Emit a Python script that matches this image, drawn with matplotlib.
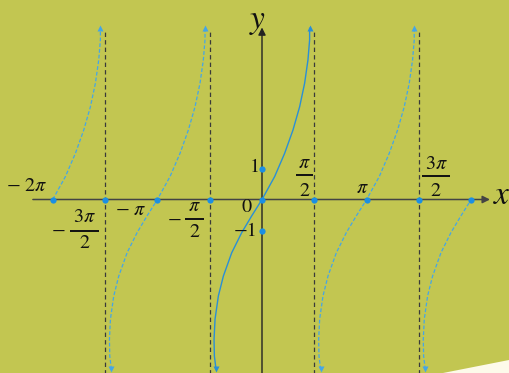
import numpy as np
import matplotlib.pyplot as plt
from matplotlib.patches import Polygon

plt.rcParams['mathtext.fontset'] = 'stix'

# chart values
half_pi = np.pi / 2
asymptotes = [-3 * half_pi, -half_pi, half_pi, 3 * half_pi]
branch_centers = [-2 * np.pi, -np.pi, 0.0, np.pi, 2 * np.pi]
x_marks = [k * half_pi for k in range(-4, 5)]
y_marks = [1, -1]
x_end = 2 * np.pi

# one branch of the curve (offset from its centre, value)
branch_dx = [-1.38, -1.43, -1.44, -1.41, -1.31, -1.16, -0.91, -0.61, -0.31, 0.0,
             0.38, 0.68, 0.93, 1.13, 1.28, 1.38, 1.43, 1.43]
branch_y = [-5.48, -5.05, -4.51, -3.86, -3.11, -2.47, -1.72, -1.07, -0.53, 0.0,
            0.74, 1.49, 2.24, 2.99, 3.75, 4.50, 5.15, 5.52]

# colours
BG = '#c2c651'
SOLID = '#2a8fd6'
DASHED = '#45a6e6'
DOT = '#1b8fe3'
INK = '#111111'

W, H = 509, 373
fig = plt.figure(figsize=(W / 100, H / 100), dpi=100)
fig.patch.set_facecolor(BG)
ax = fig.add_axes([0, 0, 1, 1])
ax.set_facecolor(BG)
ax.axis('off')
# origin at pixel (262, 199.5), 33.3 px per x unit, 31 px per y unit
ax.set_xlim(-262 / 33.3, (W - 262) / 33.3)
ax.set_ylim(-(H - 199.5) / 31, 199.5 / 31)

# paper corner bottom right
fig.patches.append(Polygon([[443 / W, 0], [1, 13 / H], [1, 0]], closed=True,
                           transform=fig.transFigure, facecolor='#fdfaea', edgecolor='none'))

# asymptotes
for a in asymptotes:
    ax.plot([a, a], [-7, 5.5], color='#3a3a3a', lw=0.9, ls=(0, (3.5, 2.5)), zorder=1)

# axes
ax.annotate('', xy=(490 / 33.3 - 262 / 33.3, 0), xytext=(-6.88, 0),
            arrowprops=dict(arrowstyle='-|>', color='#444444', lw=1.1,
                            mutation_scale=11, shrinkA=0, shrinkB=0), zorder=2)
ax.annotate('', xy=(0, 5.55), xytext=(0, -7),
            arrowprops=dict(arrowstyle='-|>', color='#222222', lw=1.0,
                            mutation_scale=11, shrinkA=0, shrinkB=0), zorder=2)

# tangent branches
bdx = np.array(branch_dx)
by = np.array(branch_y)
for c in branch_centers:
    xs = c + bdx
    keep = (xs >= -x_end - 1e-9) & (xs <= x_end + 1e-9)
    if c == -x_end:
        keep = bdx >= 0
    if c == x_end:
        keep = bdx <= 0
    xs, ys = xs[keep], by[keep]
    if c == 0:
        ax.plot(xs, ys, color=SOLID, lw=1.0, zorder=3)
        col = SOLID
    else:
        ax.plot(xs, ys, color=DASHED, lw=0.9, ls=(0, (3, 1.6)), zorder=3)
        col = DASHED
    if ys[-1] > 1:
        ax.plot(xs[-1], ys[-1], marker='^', ms=5, color=col, mec='none', zorder=4)
    if ys[0] < -1:
        ax.plot(xs[0], ys[0], marker='v', ms=5, color=col, mec='none', zorder=4)

# marked points
ax.plot(x_marks, [0] * len(x_marks), 'o', ms=4.5, color=DOT, mec='none', zorder=5)
ax.plot([0] * len(y_marks), y_marks, 'o', ms=4.5, color=DOT, mec='none', zorder=5)

font = dict(family='STIXGeneral', fontsize=14.5, color=INK, ha='center', va='center')


def label(s, xv, yv, dx, dy, **kw):
    opts = dict(font)
    opts.update(kw)
    ax.annotate(s, xy=(xv, yv), xytext=(dx, dy), textcoords='offset pixels', **opts)


def frac(num, xv, dx, dy_num, dy_line, dy_den, half):
    label(num, xv, 0, dx, dy_num)
    label('2', xv, 0, dx, dy_den)
    x0 = xv + (dx - half) / 33.3
    x1 = xv + (dx + half) / 33.3
    ax.plot([x0, x1], [dy_line / 31, dy_line / 31], color=INK, lw=1.4, zorder=6,
            solid_capstyle='butt')


label(r'$-\ 2\pi$', -2 * np.pi, 0, -26, 13)
label('−', -3 * half_pi, 0, -46, -31.5)
frac(r'$3\pi$', -3 * half_pi, -20.5, -18, -31.5, -44, 14.5)
label(r'$-\ \pi$', -np.pi, 0, -27, -10.5)
label('−', -half_pi, 0, -35, -20.5)
frac(r'$\pi$', -half_pi, -15, -6.5, -19.5, -33, 9.5)
label('0', 0, 0, -15, -8)
label('1', 0, 1, -7, 1)
label('−1', 0, -1, -16, -1)
frac(r'$\pi$', half_pi, -10, 36.5, 24.5, 8.5, 8.5)
label(r'$\pi$', np.pi, 0, -4.5, 11.5)
frac(r'$3\pi$', 3 * half_pi, 17, 35.5, 23.5, 8.5, 14)

label('x', 490 / 33.3 - 262 / 33.3, 0, 11, 4, fontsize=24, style='italic')
label('y', 0, 5.55, -5, 8, fontsize=24, style='italic')

fig.savefig('out.png', dpi=100, facecolor=BG)
